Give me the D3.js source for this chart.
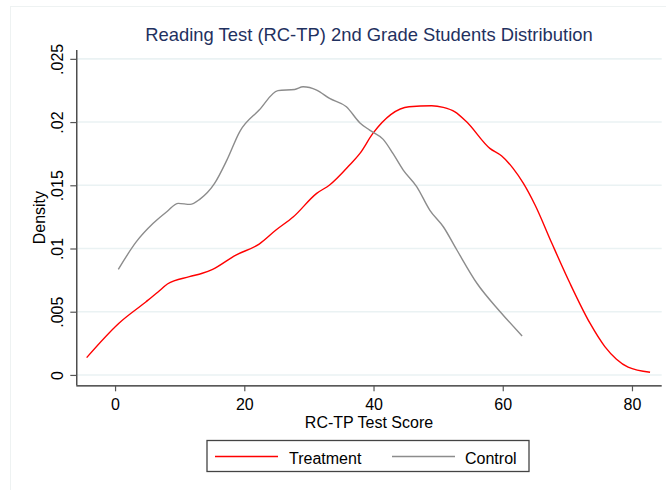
<!DOCTYPE html>
<html>
<head>
<meta charset="utf-8">
<script src="https://cdn.jsdelivr.net/npm/d3@7"></script>
<style>
  body { margin: 0; background: #fff; }
  svg { display: block; font-family: "Liberation Sans", Arial, Helvetica, sans-serif; }
</style>
</head>
<body>
<svg id="chart" width="666" height="490"></svg>
<script>
// kernel density estimates
const treatmentScore = [-4.4, 0.6, 4.8, 6.6, 8.1, 11.5, 13.5, 15.1, 18.7, 22.3, 24.9, 27.6, 31.2, 33.2, 36.3, 37.9, 39.9, 45.5, 49.0, 50.8, 52.6, 54.4, 58.0, 59.8, 61.6, 63.2, 65.0, 67.6, 70.4, 73.5, 75.8, 77.6, 79.4, 82.8]
const treatmentDensity = [0.00137, 0.00409, 0.00579, 0.00654, 0.00719, 0.00777, 0.00804, 0.00835, 0.00948, 0.01035, 0.01146, 0.01251, 0.01436, 0.01502, 0.0166, 0.01752, 0.0191, 0.02121, 0.02129, 0.02116, 0.02081, 0.02002, 0.01792, 0.01733, 0.01634, 0.01515, 0.01344, 0.01041, 0.00725, 0.00409, 0.00224, 0.00124, 0.00061, 0.00021]

const controlScore = [0.5, 3.3, 5.9, 8.0, 9.8, 11.6, 13.1, 15.4, 17.3, 19.3, 22.3, 25.2, 27.8, 29.1, 31.2, 33.2, 35.8, 37.9, 39.4, 41.5, 43.0, 44.6, 46.7, 48.7, 50.8, 52.9, 56.0, 59.6, 63.0]
const controlDensity = [0.00835, 0.01054, 0.01199, 0.01291, 0.01357, 0.01349, 0.01389, 0.01515, 0.01699, 0.01925, 0.02095, 0.02249, 0.02258, 0.02279, 0.02253, 0.02187, 0.02121, 0.01993, 0.01936, 0.01863, 0.01752, 0.0162, 0.01488, 0.01304, 0.01172, 0.00988, 0.00725, 0.005, 0.00308]

const xTicks = [0, 20, 40, 60, 80]
const yTicks = [0, 0.005, 0.01, 0.015, 0.02, 0.025]
const yTickLabels = ['0', '.005', '.01', '.015', '.02', '.025']

const series = [
  { name: 'Treatment', color: '#ff0000', x: treatmentScore, y: treatmentDensity },
  { name: 'Control', color: '#8c8c8c', x: controlScore, y: controlDensity },
]

const svg = d3.select('#chart')

// faint graph region outline
svg.append('rect')
  .attr('x', 10.5).attr('y', 6.5)
  .attr('width', 700).attr('height', 520)
  .attr('fill', 'none')
  .attr('stroke', '#eef2f2')

const plot = { left: 76.3, right: 661.7, top: 50, bottom: 385.3 }

const x = d3.scaleLinear().domain([-6, 84.6]).range([plot.left, plot.right])
const y = d3.scaleLinear().domain([-0.00082, 0.0257]).range([plot.bottom, plot.top])

// gridlines
svg.append('g')
  .selectAll('line')
  .data(yTicks)
  .enter()
  .append('line')
  .attr('x1', plot.left + 1).attr('x2', plot.right)
  .attr('y1', d => y(d)).attr('y2', d => y(d))
  .attr('stroke', '#eaf2f3')
  .attr('stroke-width', 1.6)

// axes
const yAxis = svg.append('g')
  .attr('transform', `translate(${ plot.left },0)`)
  .call(d3.axisLeft(y).tickValues(yTicks).tickFormat((d, i) => yTickLabels[i]).tickSize(6).tickSizeOuter(0))

const xAxis = svg.append('g')
  .attr('transform', `translate(0,${ plot.bottom })`)
  .call(d3.axisBottom(x).tickValues(xTicks).tickFormat(d3.format('d')).tickSize(6).tickSizeOuter(0))

for (const axis of [xAxis, yAxis]) {
  axis.select('.domain').attr('stroke', '#222').attr('stroke-width', 1.2)
  axis.selectAll('.tick line').attr('stroke', '#555').attr('stroke-width', 1.2)
  axis.selectAll('.tick text')
    .attr('fill', '#000')
    .style('font-size', '16px')
    .style('font-family', '"Liberation Sans", Arial, sans-serif')
}
// stretch the axis lines over the whole plot region
yAxis.select('.domain').attr('d', `M0.5,${ plot.top }V${ plot.bottom }`)
xAxis.select('.domain').attr('d', `M${ plot.left },0.5H${ plot.right }`)

yAxis.selectAll('.tick text')
  .attr('x', null).attr('dy', null)
  .attr('text-anchor', 'middle')
  .attr('transform', 'translate(-13.5,0) rotate(-90)')

xAxis.selectAll('.tick text').attr('y', 10).attr('dy', '0.95em')

// density curves
const line = d3.line()
  .x(d => x(d[0]))
  .y(d => y(d[1]))
  .curve(d3.curveMonotoneX)

svg.append('g')
  .selectAll('path')
  .data(series)
  .enter()
  .append('path')
  .attr('d', s => line(d3.zip(s.x, s.y)))
  .attr('fill', 'none')
  .attr('stroke', s => s.color)
  .attr('stroke-width', 1.4)
  .attr('stroke-linejoin', 'round')

// titles
svg.append('text')
  .attr('x', 369).attr('y', 41)
  .attr('text-anchor', 'middle')
  .attr('fill', '#1f3160')
  .style('font-size', '18.4px')
  .text('Reading Test (RC-TP) 2nd Grade Students Distribution')

svg.append('text')
  .attr('x', 369).attr('y', 428)
  .attr('text-anchor', 'middle')
  .attr('fill', '#000')
  .style('font-size', '16px')
  .text('RC-TP Test Score')

svg.append('text')
  .attr('transform', `translate(45,${ (plot.top + plot.bottom) / 2 }) rotate(-90)`)
  .attr('text-anchor', 'middle')
  .attr('fill', '#000')
  .style('font-size', '16px')
  .text('Density')

// legend
const legend = svg.append('g')
legend.append('rect')
  .attr('x', 207).attr('y', 440.5)
  .attr('width', 322).attr('height', 31)
  .attr('fill', '#fff')
  .attr('stroke', '#444')
  .attr('stroke-width', 1.3)

const legendX = [215, 392]
const item = legend.selectAll('g.item')
  .data(series)
  .enter()
  .append('g')
  .attr('class', 'item')
  .attr('transform', (s, i) => `translate(${ legendX[i] },456.5)`)

item.append('line')
  .attr('x1', 0).attr('x2', 63)
  .attr('stroke', s => s.color)
  .attr('stroke-width', 1.4)

item.append('text')
  .attr('x', (s, i) => i === 0 ? 74 : 73)
  .attr('y', 7)
  .attr('fill', '#000')
  .style('font-size', '16px')
  .text(s => s.name)
</script>
</body>
</html>
